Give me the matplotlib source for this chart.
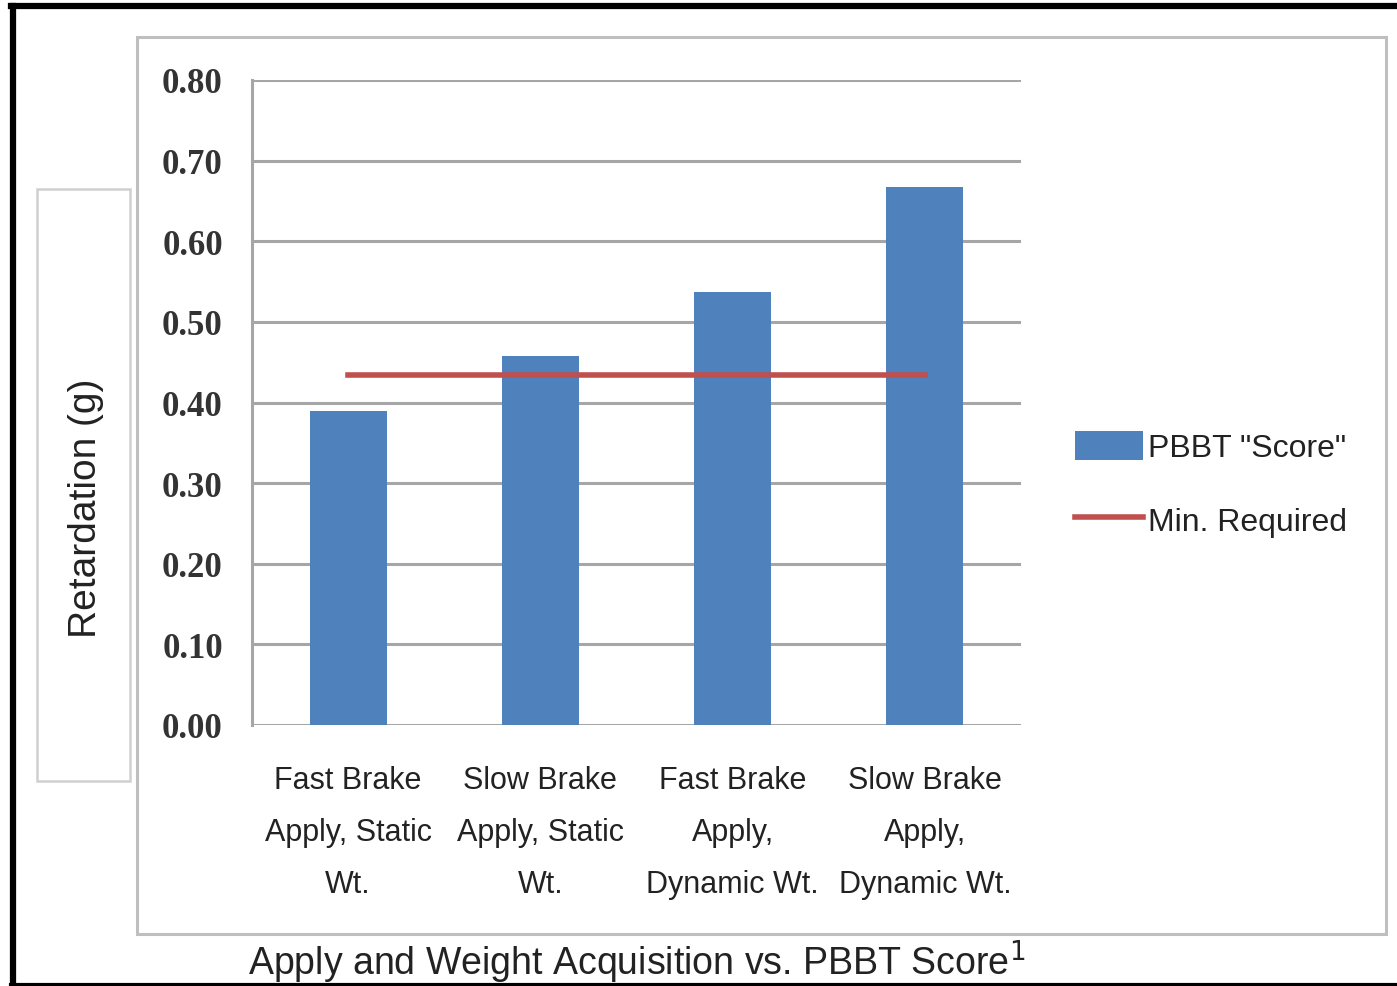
import numpy as np
import matplotlib.pyplot as plt
from matplotlib.patches import Rectangle
from matplotlib.lines import Line2D

# Datos
categories = ["Fast Brake\nApply, Static\nWt.", "Slow Brake\nApply, Static\nWt.",
              "Fast Brake\nApply,\nDynamic Wt.", "Slow Brake\nApply,\nDynamic Wt."]
scores = [0.39, 0.458, 0.537, 0.667]
min_required = [0.434, 0.434, 0.434, 0.434]
yticks = [0.0, 0.1, 0.2, 0.3, 0.4, 0.5, 0.6, 0.7, 0.8]

W, H = 1397, 987
fig = plt.figure(figsize=(W / 100, H / 100), dpi=100)

def fx(px):
    return px / W

def fy(py):
    return 1 - py / H

bar_color = '#4F81BD'
line_color = '#C0504D'
grid_color = '#A6A6A6'
cat_font = ['DejaVu Sans Condensed', 'Liberation Sans']

# Marco exterior negro
fig.add_artist(Line2D([fx(13), fx(13)], [fy(7), fy(986)], color='black', lw=4.5))
fig.add_artist(Line2D([fx(11), fx(1397)], [fy(7), fy(7)], color='black', lw=4.5))
fig.add_artist(Line2D([fx(11), fx(1397)], [fy(986), fy(986)], color='black', lw=3))

# Marco del area del grafico
fig.add_artist(Rectangle((fx(137), fy(935)), fx(1386) - fx(137), fy(38) - fy(935),
                         fill=False, ec='#BFBFBF', lw=2.2))
# Caja de la etiqueta del eje y
fig.add_artist(Rectangle((fx(37), fy(782)), fx(130) - fx(37), fy(190) - fy(782),
                         fill=False, ec='#D0D0D0', lw=1.8))

ax = fig.add_axes([fx(252), fy(726), fx(1021) - fx(252), fy(81) - fy(726)])
x = np.arange(len(categories))
bars = ax.bar(x, scores, width=0.4, color=bar_color, zorder=3, label='PBBT "Score"')
line, = ax.plot(x, min_required, color=line_color, lw=4, zorder=4, label='Min. Required')

ax.set_xlim(-0.5, len(categories) - 0.5)
ax.set_ylim(0, 0.8)
ax.set_yticks(yticks)
ax.set_yticklabels([f"{v:.2f}" for v in yticks], fontsize=25, fontweight='bold',
                   family='Liberation Serif', color='#333333')
ax.set_xticks(x)
ax.set_xticklabels(categories, fontsize=22, family=cat_font,
                   color='#222222', linespacing=1.95)
ax.tick_params(axis='both', length=0)
ax.tick_params(axis='y', pad=21)
ax.tick_params(axis='x', pad=29)
ax.grid(axis='y', color=grid_color, lw=2.2, zorder=0)
for side in ['top', 'right', 'bottom']:
    ax.spines[side].set_visible(False)
ax.spines['left'].set_color(grid_color)
ax.spines['left'].set_linewidth(2.2)

fig.text(fx(86), fy(508), 'Retardation (g)', rotation=90, ha='center', va='center',
         fontsize=28, family='Liberation Sans', color='#222222')

fig.text(fx(248), fy(962), 'Apply and Weight Acquisition vs. PBBT Score$^1$', ha='left', va='center',
         fontsize=27, family='Liberation Sans', color='#222222')

leg = fig.legend([bars, line], ['PBBT "Score"', 'Min. Required'],
                 loc='center left', bbox_to_anchor=(fx(1046), fy(485)), frameon=False,
                 prop={'family': cat_font, 'size': 23}, handleheight=1.0,
                 handlelength=2.13, handletextpad=0.15, labelspacing=1.3, labelcolor='#222222')

plt.savefig('out.png', dpi=100, facecolor='white')
